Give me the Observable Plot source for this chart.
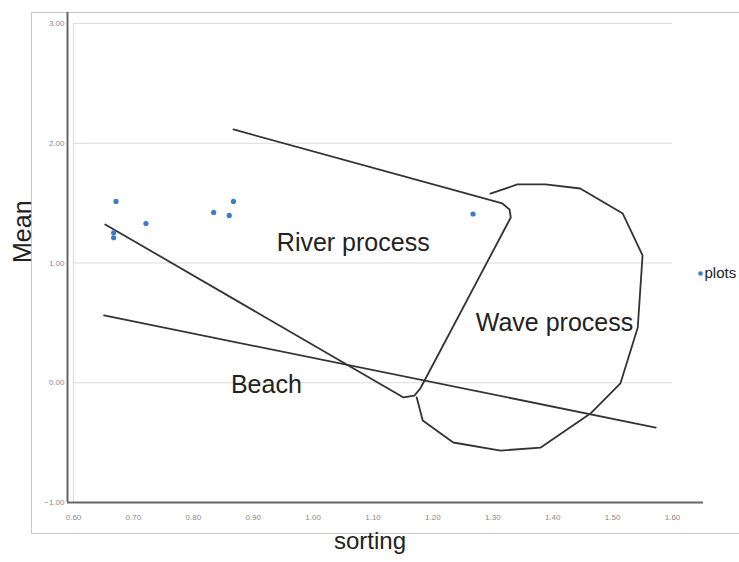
<!DOCTYPE html>
<html>
<head>
<meta charset="utf-8">
<script src="https://cdn.jsdelivr.net/npm/d3@7"></script>
<script src="https://cdn.jsdelivr.net/npm/@observablehq/plot@0.6"></script>
<style>
  body { margin: 0; background: #fff; }
  #wrap { position: relative; width: 739px; height: 562px; overflow: hidden; }
  #outer { position: absolute; left: 31px; top: 12px; width: 760px; height: 520px; border: 1px solid #c8c8c8; }
  #chart { position: absolute; left: 0; top: 0; }
</style>
</head>
<body>
<div id="wrap"><div id="outer"></div><div id="chart"></div></div>
<script>
// ---- data ----
const xTicks = [0.6, 0.7, 0.8, 0.9, 1.0, 1.1, 1.2, 1.3, 1.4, 1.5, 1.6];
const yTicks = [-1, 0, 1, 2, 3];
const gridY = [0, 1, 2, 3];

const sortingVals = [0.671, 0.667, 0.667, 0.721, 0.834, 0.860, 0.867, 1.267];
const meanVals    = [1.514, 1.252, 1.211, 1.330, 1.422, 1.397, 1.514, 1.409];

const beachX = [0.651, 1.572];
const beachY = [0.562, -0.374];

const riverX = [0.653, 1.151, 1.169, 1.179, 1.330, 1.328, 1.316, 0.867];
const riverY = [1.322, -0.123, -0.107, -0.048, 1.380, 1.447, 1.497, 2.115];

const waveX = [1.296, 1.341, 1.388, 1.446, 1.517, 1.550, 1.542, 1.513, 1.463, 1.380, 1.313, 1.234, 1.183, 1.173];
const waveY = [1.580, 1.656, 1.656, 1.622, 1.413, 1.063, 0.461, -0.006, -0.257, -0.541, -0.566, -0.499, -0.315, -0.123];

const regionNames = ["River process", "Wave process", "Beach"];
const regionX = [1.067, 1.403, 0.922];
const regionY = [1.163, 0.503, -0.015];

const legendLabel = "plots";
const xLabel = "sorting";
const yLabel = "Mean";

// ---- build ----
const pts = sortingVals.map((s, i) => ({sorting: s, mean: meanVals[i]}));
const beach = beachX.map((x, i) => ({x, y: beachY[i]}));
const river = riverX.map((x, i) => ({x, y: riverY[i]}));
const wave = waveX.map((x, i) => ({x, y: waveY[i]}));
const regions = regionNames.map((n, i) => ({n, x: regionX[i], y: regionY[i]}));

const W = 739, H = 562;
const mL = 73, mR = 67, mT = 23, mB = 60;
const xDom = [0.6, 1.6], yDom = [-1, 3];
const pxX = (xDom[1] - xDom[0]) / (W - mL - mR);
const pxY = (yDom[1] - yDom[0]) / (H - mT - mB);
const axisX0 = xDom[0] - 6 * pxX;     // y-axis line slightly left of inner box
const axisX1 = xDom[1] + 31 * pxX;    // x-axis line extends right
const axisYTop = yDom[1] + 11 * pxY;  // y-axis line reaches outer frame

const blue = "#3d7cc9";
const ink = "#333";

const chart = Plot.plot({
  width: W, height: H,
  marginLeft: mL, marginRight: mR, marginTop: mT, marginBottom: mB,
  x: {domain: xDom},
  y: {domain: yDom},
  style: {fontFamily: "'Liberation Sans', Arial, sans-serif", background: "transparent", overflow: "visible"},
  marks: [
    Plot.ruleY(gridY, {stroke: "#dcdcdc", strokeWidth: 1.2}),
    Plot.ruleX([xDom[0]], {y1: yDom[0], y2: yDom[1], stroke: "#dcdcdc", strokeWidth: 1.2}),
    Plot.ruleX([axisX0], {y1: yDom[0], y2: axisYTop, stroke: "#666", strokeWidth: 2, clip: false}),
    Plot.ruleY([yDom[0]], {x1: axisX0, x2: axisX1, stroke: "#666", strokeWidth: 2, clip: false}),
    Plot.axisX({ticks: xTicks, tickFormat: d3.format(".2f"), tickSize: 0, tickPadding: 12, fontSize: 8, color: "#8a8a8a", label: null}),
    Plot.axisY({ticks: yTicks, tickFormat: d3.format(".2f"), tickSize: 0, tickPadding: 9, fontSize: 8, color: "#8a8a8a", label: null}),
    Plot.line(beach, {x: "x", y: "y", stroke: ink, strokeWidth: 1.8}),
    Plot.line(river, {x: "x", y: "y", stroke: ink, strokeWidth: 1.8, strokeLinejoin: "round"}),
    Plot.line(wave, {x: "x", y: "y", stroke: ink, strokeWidth: 1.8, strokeLinejoin: "round"}),
    Plot.dot(pts, {x: "sorting", y: "mean", r: 2.6, fill: blue, stroke: "none"}),
    Plot.text(regions, {x: "x", y: "y", text: "n", fontSize: 25, fill: "#222"}),
    Plot.text([yLabel], {frameAnchor: "left", dx: -51, rotate: -90, fontSize: 25, fill: "#222"}),
    Plot.text([xLabel], {frameAnchor: "bottom", dx: -3, dy: 46, fontSize: 24, fill: "#222"}),
    Plot.dot([legendLabel], {frameAnchor: "right", dx: 28, dy: 10.5, r: 2.3, fill: blue, stroke: "none"}),
    Plot.text([legendLabel], {frameAnchor: "right", dx: 32, dy: 10.5, textAnchor: "start", fontSize: 15, fill: "#222"})
  ]
});
document.getElementById("chart").appendChild(chart);
</script>
</body>
</html>
